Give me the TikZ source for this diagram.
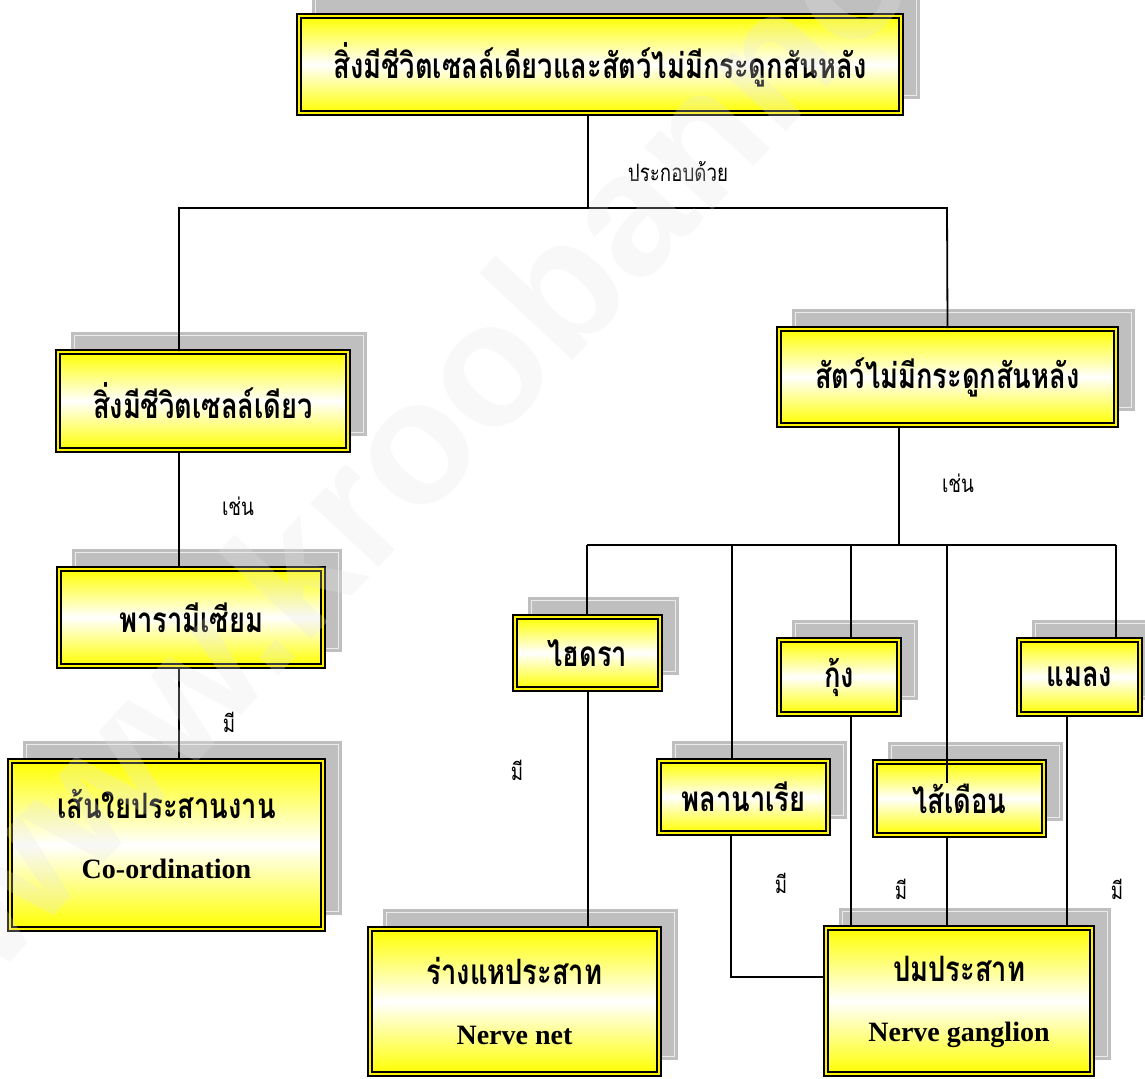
\documentclass[tikz,border=0pt]{standalone}
\usepackage{fontspec}
\setmainfont{Liberation Serif}
\newfontfamily\thaifont[Script=Thai, FakeStretch=0.78]{Loma}
\newfontfamily\markfont{Liberation Sans}
\newcommand{\engtxt}[1]{{\rmfamily\bfseries\fontsize{14}{16}\selectfont #1}}
\usetikzlibrary{shadows}

\tikzset{
  box/.style={draw=black, line width=1.1pt, double=yellow, double distance=1pt,
    top color=yellow, bottom color=yellow, middle color=white,
    inner sep=0pt, align=center, font=\thaifont\bfseries\fontsize{17.5}{18}\selectfont,
    general shadow={fill=black!25, draw=black!25, line width=1.4pt, double=black!8,
      double distance=0.4pt, shadow xshift=8pt, shadow yshift=8.5pt}},
  boxsize/.style 2 args={minimum width=#1*0.5pt-3.2pt, minimum height=#2*0.5pt-3.2pt},
  tag/.style={font=\thaifont\fontsize{12}{14}\selectfont, inner sep=0pt},
  link/.style={line width=0.9pt}
}

\begin{document}
\begin{tikzpicture}[x=0.5pt, y=-0.5pt]
    \useasboundingbox (0,0) rectangle (1145,1079);
    % กล่องหลัก
    \node[box, boxsize={608}{103}] (top) at (600,64.5) {สิ่งมีชีวิตเซลล์เดียวและสัตว์ไม่มีกระดูกสันหลัง};
    \node[box, boxsize={296}{104}] (uni) at (203,401) {สิ่งมีชีวิตเซลล์เดียว};
    \node[box, boxsize={343}{102}] (inv) at (947.5,377) {สัตว์ไม่มีกระดูกสันหลัง};
    % สิ่งมีชีวิตเซลล์เดียว
    \node[box, boxsize={270}{103}] (para) at (191,617.5) {พารามีเซียม};
    \node[box, boxsize={319}{174}] (coord) at (166.5,845) {เส้นใยประสานงาน\\[12pt]\engtxt{Co-ordination}\\[-7pt]};
    % สัตว์ไม่มีกระดูกสันหลัง
    \node[box, boxsize={151}{78}] (hydra) at (587.5,653) {ไฮดรา};
    \node[box, boxsize={175}{78}] (plan) at (743.5,797) {พลานาเรีย};
    \node[box, boxsize={126}{80}] (shrimp) at (839,677) {กุ้ง};
    \node[box, boxsize={175}{79}] (worm) at (959.5,798.5) {ไส้เดือน};
    \node[box, boxsize={127}{80}] (insect) at (1079.5,677) {แมลง};
    % ระบบประสาท
    \node[box, boxsize={295}{151}] (net) at (514.5,1001.5) {ร่างแหประสาท\\[12pt]\engtxt{Nerve net}};
    \node[box, boxsize={272}{152}] (gang) at (959,1001) {\vphantom{ร่}ปมประสาท\\[12pt]\engtxt{Nerve ganglion}};

    % เส้นเชื่อม
    \draw[link] (588,0 |- top.south) -- (588,208);
    \draw[link] (179,0 |- uni.north) |- (947,208) -- (inv.north);
    \draw[link] (179,0 |- uni.south) -- (179,0 |- para.north);
    \draw[link] (179,0 |- para.south) -- (179,0 |- coord.north);
    \draw[link] (899,0 |- inv.south) -- (899,545);
    \draw[link] (587,545) -- (1116,545);
    \foreach \x/\n in {587/hydra, 732/plan, 851/shrimp, 947/worm, 1116/insect}
    \draw[link] (\x,545) -- (\x,0 |- \n.north);
    \draw[link] (947,0 |- worm.north) -- ++(0,22);
    \draw[link] (588,0 |- hydra.south) -- (588,0 |- net.north);
    \draw[link] (731,0 |- plan.south) |- (gang.west |- 0,977);
    \foreach \x/\n in {851/shrimp, 947/worm, 1067/insect}
    \draw[link] (\x,0 |- \n.south) -- (\x,0 |- gang.north);

    % ข้อความบนเส้น
    \node[tag] (t1) at (678,172) {ประกอบด้วย};
    \node[tag] (t2) at (238,506) {เช่น};
    \node[tag] (t3) at (229,722) {มี};
    \node[tag] (t4) at (958,483) {เช่น};
    \node[tag] (t5) at (517,770) {มี};
    \node[tag] (t6) at (781,883) {มี};
    \node[tag] (t7) at (901,889) {มี};
    \node[tag] (t8) at (1117,889) {มี};

    % ลายน้ำ
    \node[rotate=47, anchor=base west, text=black!10, text opacity=0.25,
      font=\markfont\bfseries\fontsize{88}{90}\selectfont] (mark) at (-10,985) {www.kroobannok.com};
  \end{tikzpicture}
\end{document}
